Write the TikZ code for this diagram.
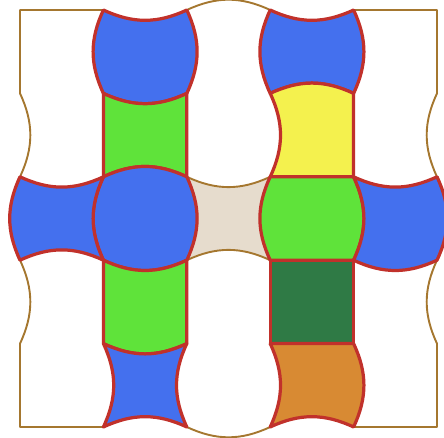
\documentclass[tikz,border=0pt]{standalone}
\usepackage{tikz}
\definecolor{TileBlue}{HTML}{4470EE}
\definecolor{TileGreen}{HTML}{5FE33A}
\definecolor{TileYellow}{HTML}{F4F14E}
\definecolor{DeepGreen}{HTML}{2F7A45}
\definecolor{TileOrange}{HTML}{D88A33}
\definecolor{Sand}{HTML}{E6DCCD}
\definecolor{EdgeRed}{HTML}{C1312B}
\definecolor{EdgeBrown}{HTML}{A5772F}

\begin{document}
\begin{tikzpicture}[
    tile/.style={draw=EdgeRed,line width=2.2pt,line join=round},
    plain/.style={draw=EdgeBrown,line width=1.3pt,line join=round},
    bulge/.style={bend left=25},
    dent/.style={bend right=25}
  ]
  \useasboundingbox (-0.48,-0.264) rectangle (10.168,10.24);
  % Grid corners
  \foreach \c in {0,...,5}
    \foreach \r in {0,...,5}
      \coordinate (v\c\r) at ({2*\c},{10-2*\r});
  % Outline
  \draw[plain,fill=white] (v00) -- (v10) to[dent] (v20) to[bulge] (v30) to[dent] (v40) -- (v50)
    -- (v51) to[dent] (v52) to[bulge] (v53) to[dent] (v54) -- (v55)
    -- (v45) to[dent] (v35) to[bulge] (v25) to[dent] (v15) -- (v05)
    -- (v04) to[dent] (v03) to[bulge] (v02) to[dent] (v01) -- cycle;
  % Middle tile
  \draw[plain,fill=Sand] (v22) to[dent] (v32) to[dent] (v33) to[dent] (v23) to[dent] cycle;
  % Left column
  \draw[tile,fill=TileBlue] (v10) to[dent] (v20) to[bulge] (v21) to[bulge] (v11) to[bulge] cycle;
  \draw[tile,fill=TileGreen] (v11) to[dent] (v21) -- (v22) to[dent] (v12) -- cycle;
  \draw[tile,fill=TileBlue] (v12) to[bulge] (v22) to[bulge] (v23) to[bulge] (v13) to[bulge] cycle;
  \draw[tile,fill=TileGreen] (v13) to[dent] (v23) -- (v24) to[bulge] (v14) -- cycle;
  \draw[tile,fill=TileBlue] (v14) to[dent] (v24) to[dent] (v25) to[dent] (v15) to[dent] cycle;
  % Right column
  \draw[tile,fill=TileBlue] (v30) to[dent] (v40) to[bulge] (v41) to[dent] (v31) to[bulge] cycle;
  \draw[tile,fill=TileYellow] (v31) to[bulge] (v41) -- (v42) -- (v32) to[dent] cycle;
  \draw[tile,fill=TileGreen] (v32) -- (v42) to[bulge] (v43) -- (v33) to[bulge] cycle;
  \draw[tile,fill=DeepGreen] (v33) rectangle (v44);
  \draw[tile,fill=TileOrange] (v34) -- (v44) to[bulge] (v45) to[dent] (v35) to[dent] cycle;
  % Side tiles
  \draw[tile,fill=TileBlue] (v02) to[dent] (v12) to[dent] (v13) to[dent] (v03) to[bulge] cycle;
  \draw[tile,fill=TileBlue] (v42) to[dent] (v52) to[bulge] (v53) to[bulge] (v43) to[dent] cycle;
\end{tikzpicture}
\end{document}
